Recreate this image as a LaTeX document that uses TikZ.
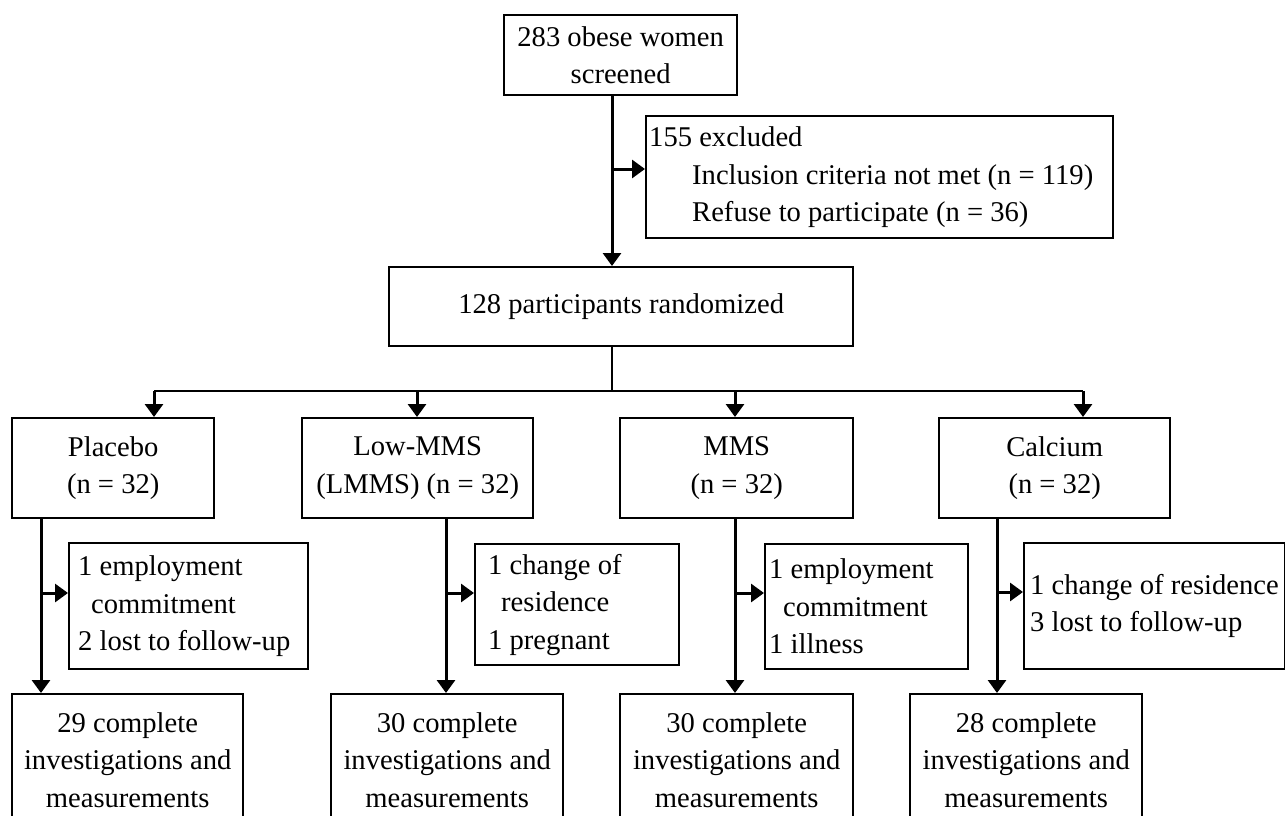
\documentclass[tikz,border=0pt]{standalone}
\usepackage{fontspec}
\setmainfont{Liberation Serif}
\usetikzlibrary{arrows.meta}
\newcommand\boxfont{\fontsize{28.6pt}{37.5pt}\selectfont}
\tikzset{
  box/.style={draw, line width=2.4pt, inner sep=0pt, anchor=north west, font=\boxfont},
  cbox/.style={box, align=flush center},
  lbox/.style={box, align=flush left, inner ysep=0pt},
  arr/.style={line width=3pt, -{Triangle[width=18pt,length=13pt]}},
  link/.style={line width=3pt},
  bus/.style={line width=2pt},
}
\begin{document}
\begin{tikzpicture}[x=1pt,y=-1pt]
\useasboundingbox (0,0) rectangle (1285,816);

% boxes
\node[cbox, minimum width=233pt, minimum height=80pt] (top) at (503,14) {283 obese women\\screened};
\node[lbox, minimum width=467pt, minimum height=122pt, inner xsep=3pt, text width=461pt] (excl) at (645,115)
  {\mbox{155 excluded}\\\mbox{\hspace*{43pt}Inclusion criteria not met (n = 119)}\\\mbox{\hspace*{43pt}Refuse to participate (n = 36)}};
\node[cbox, minimum width=464pt, minimum height=79pt] (rand) at (388,266) {128 participants randomized};

\node[cbox, minimum width=202pt, minimum height=100pt] (plac) at (11,417) {Placebo\\(n = 32)};
\node[cbox, minimum width=231pt, minimum height=100pt] (lmms) at (301,417) {Low-MMS\\(LMMS) (n = 32)};
\node[cbox, minimum width=233pt, minimum height=100pt] (mms) at (619,417) {MMS\\(n = 32)};
\node[cbox, minimum width=231pt, minimum height=100pt] (calc) at (938,417) {Calcium\\(n = 32)};

\node[lbox, minimum width=239pt, minimum height=126pt, inner xsep=9pt, text width=221pt] (pex) at (68,542)
  {\mbox{1 employment}\\\mbox{\hspace*{13pt}commitment}\\\mbox{2 lost to follow-up}};
\node[lbox, minimum width=204pt, minimum height=121pt, inner xsep=13pt, text width=178pt] (lex) at (474,543)
  {\mbox{1 change of}\\\mbox{\hspace*{13pt}residence}\\\mbox{1 pregnant}};
\node[lbox, minimum width=203pt, minimum height=125pt, inner xsep=4pt, text width=195pt] (mex) at (764,543)
  {\mbox{1 employment}\\\mbox{\hspace*{14pt}commitment}\\\mbox{1 illness}};
\node[lbox, minimum width=261pt, minimum height=126pt, inner xsep=6pt, text width=249pt] (cex) at (1023,542)
  {\mbox{1 change of residence}\\\mbox{3 lost to follow-up}};

\node[cbox, minimum width=231pt, minimum height=132pt] (pbot) at (11,693) {29 complete\\investigations and\\measurements};
\node[cbox, minimum width=232pt, minimum height=132pt] (lbot) at (330,693) {30 complete\\investigations and\\measurements};
\node[cbox, minimum width=233pt, minimum height=132pt] (mbot) at (619,693) {30 complete\\investigations and\\measurements};
\node[cbox, minimum width=232pt, minimum height=132pt] (cbot) at (909,693) {28 complete\\investigations and\\measurements};

% connector anchor points
\coordinate (t1) at (612,94);
\coordinate (e1) at (612,169);
\coordinate (r1) at (612,345);
\coordinate (b0) at (612,391);
\coordinate (bL) at (154,391);
\coordinate (bR) at (1083,391);
\coordinate (bl2) at (417,391);
\coordinate (bm2) at (735,391);

\coordinate (p1) at (41,517);
\coordinate (p2) at (41,593);
\coordinate (l1) at (446,517);
\coordinate (l2) at (446,593);
\coordinate (m1) at (735,517);
\coordinate (m2) at (735,593);
\coordinate (c1) at (997,517);
\coordinate (c2) at (997,592);

% connectors
\draw[arr] (t1) -- (t1 |- rand.north);
\draw[arr] (e1) -- (e1 -| excl.west);
\draw[bus] (r1) -- (b0);
\draw[bus] (bL) -- (bR);
\draw[arr] (bL) -- (bL |- plac.north);
\draw[arr] (bl2) -- (bl2 |- lmms.north);
\draw[arr] (bm2) -- (bm2 |- mms.north);
\draw[arr] (bR) -- (bR |- calc.north);

\draw[arr] (p1) -- (p1 |- pbot.north);
\draw[arr] (p2) -- (p2 -| pex.west);
\draw[arr] (l1) -- (l1 |- lbot.north);
\draw[arr] (l2) -- (l2 -| lex.west);
\draw[arr] (m1) -- (m1 |- mbot.north);
\draw[arr] (m2) -- (m2 -| mex.west);
\draw[arr] (c1) -- (c1 |- cbot.north);
\draw[arr] (c2) -- (c2 -| cex.west);
\end{tikzpicture}
\end{document}
